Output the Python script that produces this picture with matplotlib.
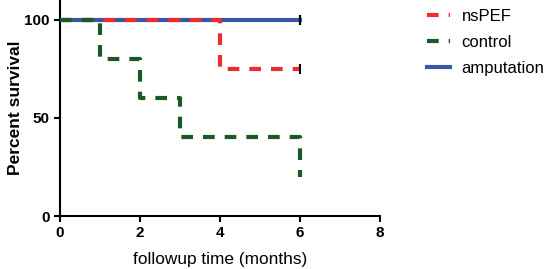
import numpy as np
import matplotlib.pyplot as plt

plt.rcParams['font.family'] = ['Liberation Sans', 'DejaVu Sans']

# survival step data (months, percent)
nspef_t = [0, 4, 6]
nspef_s = [100, 75, 75]
control_t = [0, 1, 2, 3, 6]
control_s = [100, 80, 60, 40, 20]
amput_t = [0, 6]
amput_s = [100, 100]

# censored points at end of followup
cens_t = [6, 6, 6]
cens_s = [75, 100, 100]

red = '#ee2b2e'
green = '#1b5a28'
blue = '#3a56a5'

fig = plt.figure(figsize=(5.5, 2.69), dpi=100)
ax = fig.add_axes([0.109, 0.197, 0.582, 0.803])

ax.step(amput_t, amput_s, where='post', color=blue, lw=3, label='amputation', zorder=2)
ax.step(nspef_t, nspef_s, where='post', color=red, lw=3, dashes=(2.8, 2.4), label='nsPEF', zorder=3)
ax.step(control_t, control_s, where='post', color=green, lw=3, dashes=(2.8, 2.4), label='control', zorder=3)
ax.plot(cens_t, cens_s, linestyle='none', marker='|', color='black', ms=7, mew=1.5, zorder=4)

ax.set_xlim(0, 8)
ax.set_ylim(0, 110)
ax.set_xticks([0, 2, 4, 6, 8])
ax.set_yticks([0, 50, 100])
for s in ['top', 'right']:
    ax.spines[s].set_visible(False)
for s in ['left', 'bottom']:
    ax.spines[s].set_linewidth(1.5)
ax.tick_params(width=1.5, length=4, labelsize=11)
for lab in ax.get_xticklabels() + ax.get_yticklabels():
    lab.set_fontweight('bold')

ax.set_ylabel('Percent survival', fontsize=12.5, fontweight='bold', labelpad=1)
ax.set_xlabel('followup time (months)', fontsize=12.4, labelpad=1)
ax.xaxis.set_label_coords(0.5, -0.165)

h, l = ax.get_legend_handles_labels()
order = [1, 2, 0]
fig.legend([h[i] for i in order], [l[i] for i in order], loc='upper left',
           bbox_to_anchor=(0.768, 0.985), frameon=False, fontsize=12,
           handlelength=1.35, handletextpad=0.7, labelspacing=0.65,
           borderpad=0.1, borderaxespad=0.2)

fig.savefig('out.png', dpi=100)
